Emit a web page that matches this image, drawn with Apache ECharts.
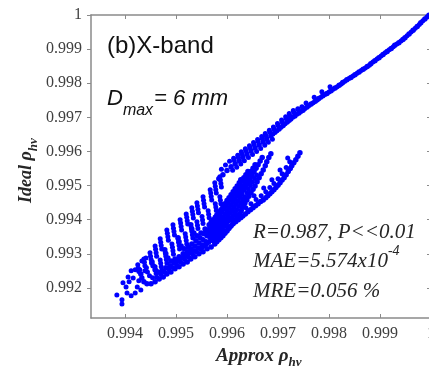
<!DOCTYPE html>
<html><head><meta charset="utf-8">
<script src="https://cdn.jsdelivr.net/npm/echarts@6/dist/echarts.min.js"></script>
<style>html,body{margin:0;padding:0;background:#fff}#c{width:429px;height:367px}</style>
</head><body><div id="c"></div>
<script>
// ---- tick labels ----
const xTickVals = [0.994, 0.995, 0.996, 0.997, 0.998, 0.999, 1];
const yTickVals = [0.992, 0.993, 0.994, 0.995, 0.996, 0.997, 0.998, 0.999, 1];

// ---- data (Approx rho_hv, Ideal rho_hv) ----
const band = [[0.99996,0.99999],[0.99988,0.99988],[0.99980,0.99977],[0.99973,0.99966],[0.99965,0.99955],[0.99957,0.99944],[0.99949,0.99933],[0.99945,0.99928],[0.99937,0.99919],[0.99929,0.99911],[0.99922,0.99902],[0.99914,0.99893],[0.99906,0.99884],[0.99898,0.99875],[0.99890,0.99866],[0.99882,0.99857],[0.99875,0.99849],[0.99867,0.99841],[0.99859,0.99833],[0.99851,0.99825],[0.99843,0.99817],[0.99835,0.99810],[0.99827,0.99802],[0.99820,0.99794],[0.99812,0.99786],[0.99804,0.99778],[0.99796,0.99770],[0.99788,0.99763],[0.99780,0.99755],[0.99773,0.99747],[0.99765,0.99739],[0.99757,0.99730],[0.99749,0.99721],[0.99741,0.99713],[0.99733,0.99704],[0.99725,0.99695],[0.99718,0.99686],[0.99710,0.99676],[0.99702,0.99666],[0.99694,0.99656],[0.99686,0.99646],[0.99678,0.99637],[0.99671,0.99628],[0.99663,0.99619],[0.99655,0.99610],[0.99647,0.99601],[0.99639,0.99592],[0.99631,0.99583],[0.99624,0.99573],[0.99616,0.99564],[0.99608,0.99555],[0.99600,0.99544],[0.99592,0.99532],[0.99584,0.99520]];
const bandMid = [[0.99992,0.99994],[0.99984,0.99983],[0.99977,0.99972],[0.99969,0.99961],[0.99961,0.99950],[0.99953,0.99939],[0.99941,0.99924],[0.99933,0.99915],[0.99926,0.99907],[0.99918,0.99898],[0.99910,0.99889],[0.99902,0.99880],[0.99894,0.99871],[0.99886,0.99862],[0.99879,0.99853],[0.99871,0.99845],[0.99863,0.99837],[0.99855,0.99829],[0.99847,0.99821],[0.99839,0.99814],[0.99831,0.99806],[0.99824,0.99798],[0.99816,0.99790],[0.99808,0.99782],[0.99800,0.99774],[0.99792,0.99767],[0.99784,0.99759],[0.99777,0.99751],[0.99769,0.99743],[0.99761,0.99735],[0.99753,0.99726],[0.99745,0.99717],[0.99737,0.99709],[0.99729,0.99700],[0.99722,0.99691],[0.99714,0.99681],[0.99706,0.99671],[0.99698,0.99661],[0.99690,0.99651]];
const bandEdge = [[0.99747,0.99731],[0.99739,0.99723],[0.99731,0.99714],[0.99723,0.99705],[0.99716,0.99696],[0.99708,0.99686],[0.99700,0.99676],[0.99692,0.99666],[0.99684,0.99656],[0.99676,0.99647],[0.99669,0.99638],[0.99661,0.99629],[0.99653,0.99620],[0.99645,0.99611],[0.99637,0.99602],[0.99629,0.99593],[0.99622,0.99583],[0.99614,0.99574],[0.99689,0.99636],[0.99681,0.99627],[0.99674,0.99618],[0.99666,0.99609],[0.99658,0.99600],[0.99650,0.99591],[0.99642,0.99582],[0.99634,0.99573],[0.99627,0.99563],[0.99619,0.99554],[0.99611,0.99545]];
const bandTop = [[0.99730,0.99720],[0.99722,0.99711],[0.99715,0.99702],[0.99707,0.99692],[0.99699,0.99682],[0.99691,0.99672],[0.99683,0.99662],[0.99675,0.99653],[0.99668,0.99644],[0.99660,0.99635],[0.99652,0.99626],[0.99644,0.99617],[0.99636,0.99608],[0.99628,0.99599],[0.99621,0.99589],[0.99613,0.99580],[0.99605,0.99571],[0.99597,0.99560],[0.99589,0.99548],[0.99802,0.99790],[0.99786,0.99775],[0.99771,0.99759],[0.99755,0.99742],[0.99739,0.99725]];
const stemA = [[0.99431,0.99241],[0.99433,0.99229],[0.99437,0.99218],[0.99443,0.99212],[0.99451,0.99212],[0.99459,0.99218],[0.99467,0.99226],[0.99475,0.99232],[0.99482,0.99241],[0.99490,0.99247],[0.99498,0.99256],[0.99506,0.99262],[0.99514,0.99270],[0.99522,0.99276],[0.99529,0.99285],[0.99537,0.99291],[0.99545,0.99300],[0.99553,0.99306],[0.99561,0.99315],[0.99569,0.99320],[0.99576,0.99329],[0.99584,0.99341],[0.99592,0.99353],[0.99600,0.99367],[0.99608,0.99382],[0.99616,0.99400],[0.99624,0.99417],[0.99631,0.99438],[0.99639,0.99458],[0.99647,0.99479],[0.99655,0.99499],[0.99663,0.99523],[0.99671,0.99546],[0.99678,0.99570],[0.99686,0.99593],[0.99580,0.99335],[0.99588,0.99347],[0.99596,0.99360],[0.99604,0.99375],[0.99612,0.99391],[0.99620,0.99409],[0.99628,0.99428],[0.99635,0.99448],[0.99643,0.99469],[0.99651,0.99489],[0.99659,0.99511],[0.99667,0.99535],[0.99675,0.99558],[0.99682,0.99582]];
const stemAB = [[0.99442,0.99259],[0.99444,0.99247],[0.99448,0.99236],[0.99454,0.99230],[0.99462,0.99231],[0.99470,0.99239],[0.99478,0.99246],[0.99486,0.99253],[0.99493,0.99260],[0.99501,0.99268],[0.99509,0.99275],[0.99517,0.99283],[0.99525,0.99290],[0.99533,0.99297],[0.99540,0.99306],[0.99548,0.99313],[0.99556,0.99324],[0.99564,0.99333],[0.99572,0.99344],[0.99580,0.99354],[0.99587,0.99366],[0.99595,0.99381],[0.99603,0.99396],[0.99611,0.99411],[0.99619,0.99429],[0.99627,0.99449],[0.99635,0.99467],[0.99642,0.99490],[0.99650,0.99510],[0.99658,0.99531],[0.99552,0.99319],[0.99560,0.99329],[0.99568,0.99339],[0.99576,0.99349],[0.99584,0.99360],[0.99591,0.99374],[0.99599,0.99389],[0.99607,0.99404],[0.99615,0.99420],[0.99623,0.99439],[0.99631,0.99458],[0.99639,0.99479],[0.99646,0.99500],[0.99654,0.99521]];
const stemB = [[0.99453,0.99276],[0.99455,0.99265],[0.99459,0.99253],[0.99465,0.99247],[0.99473,0.99250],[0.99480,0.99259],[0.99488,0.99265],[0.99496,0.99273],[0.99504,0.99279],[0.99512,0.99288],[0.99520,0.99294],[0.99527,0.99303],[0.99535,0.99309],[0.99543,0.99317],[0.99551,0.99326],[0.99559,0.99335],[0.99567,0.99347],[0.99575,0.99359],[0.99582,0.99373],[0.99590,0.99388],[0.99598,0.99403],[0.99606,0.99420],[0.99614,0.99438],[0.99622,0.99455],[0.99629,0.99476],[0.99637,0.99497],[0.99645,0.99517],[0.99653,0.99541],[0.99661,0.99561],[0.99669,0.99582],[0.99571,0.99353],[0.99579,0.99366],[0.99586,0.99381],[0.99594,0.99396],[0.99602,0.99412],[0.99610,0.99429],[0.99618,0.99447],[0.99626,0.99466],[0.99633,0.99487],[0.99641,0.99507],[0.99649,0.99529],[0.99657,0.99551],[0.99665,0.99572]];
const stemC = [[0.99478,0.99312],[0.99480,0.99300],[0.99484,0.99288],[0.99490,0.99279],[0.99498,0.99285],[0.99506,0.99291],[0.99514,0.99300],[0.99522,0.99306],[0.99529,0.99315],[0.99537,0.99323],[0.99545,0.99332],[0.99553,0.99341],[0.99561,0.99353],[0.99569,0.99364],[0.99576,0.99379],[0.99584,0.99394],[0.99592,0.99408],[0.99600,0.99426],[0.99608,0.99444],[0.99616,0.99461],[0.99624,0.99479],[0.99631,0.99499],[0.99639,0.99520],[0.99647,0.99541],[0.99655,0.99561],[0.99565,0.99359],[0.99573,0.99372],[0.99580,0.99387],[0.99588,0.99401],[0.99596,0.99417],[0.99604,0.99435],[0.99612,0.99453],[0.99620,0.99470],[0.99628,0.99489],[0.99635,0.99510],[0.99643,0.99531],[0.99651,0.99551]];
const stemD = [[0.99504,0.99347],[0.99506,0.99335],[0.99510,0.99323],[0.99516,0.99315],[0.99524,0.99320],[0.99531,0.99329],[0.99539,0.99338],[0.99547,0.99347],[0.99555,0.99359],[0.99563,0.99370],[0.99571,0.99385],[0.99578,0.99400],[0.99586,0.99414],[0.99594,0.99432],[0.99602,0.99450],[0.99610,0.99467],[0.99618,0.99485],[0.99625,0.99502],[0.99633,0.99523],[0.99641,0.99541],[0.99559,0.99365],[0.99567,0.99378],[0.99575,0.99393],[0.99582,0.99407],[0.99590,0.99423],[0.99598,0.99441],[0.99606,0.99459],[0.99614,0.99476],[0.99622,0.99494],[0.99629,0.99513],[0.99637,0.99532]];
const stemE = [[0.99529,0.99385],[0.99531,0.99373],[0.99535,0.99361],[0.99541,0.99353],[0.99549,0.99361],[0.99557,0.99373],[0.99565,0.99385],[0.99573,0.99400],[0.99580,0.99414],[0.99588,0.99429],[0.99596,0.99447],[0.99604,0.99464],[0.99612,0.99482],[0.99620,0.99499],[0.99627,0.99517],[0.99569,0.99393],[0.99577,0.99407],[0.99584,0.99422],[0.99592,0.99438],[0.99600,0.99456],[0.99608,0.99473],[0.99616,0.99491],[0.99624,0.99508]];
const teethOuter = [[0.99425,0.99268],[0.99426,0.99258],[0.99427,0.99248],[0.99437,0.99285],[0.99438,0.99275],[0.99439,0.99265],[0.99449,0.99303],[0.99450,0.99293],[0.99451,0.99283],[0.99452,0.99273],[0.99459,0.99323],[0.99460,0.99313],[0.99461,0.99303],[0.99462,0.99293],[0.99469,0.99344],[0.99470,0.99334],[0.99471,0.99324],[0.99472,0.99314],[0.99482,0.99370],[0.99483,0.99360],[0.99484,0.99350],[0.99485,0.99340],[0.99494,0.99385],[0.99495,0.99375],[0.99496,0.99365],[0.99497,0.99355],[0.99508,0.99400],[0.99509,0.99390],[0.99510,0.99380],[0.99511,0.99370],[0.99520,0.99417],[0.99521,0.99407],[0.99522,0.99397],[0.99523,0.99387],[0.99531,0.99435],[0.99532,0.99425],[0.99533,0.99415],[0.99534,0.99405],[0.99541,0.99450],[0.99542,0.99440],[0.99543,0.99430],[0.99544,0.99420],[0.99553,0.99467],[0.99554,0.99457],[0.99555,0.99447],[0.99556,0.99437],[0.99567,0.99488],[0.99568,0.99478],[0.99569,0.99468],[0.99570,0.99458],[0.99576,0.99508],[0.99577,0.99498],[0.99578,0.99488],[0.99579,0.99478],[0.99586,0.99526],[0.99587,0.99516],[0.99588,0.99506],[0.99589,0.99496]];
const teethInner = [[0.99459,0.99262],[0.99460,0.99252],[0.99461,0.99242],[0.99469,0.99282],[0.99470,0.99272],[0.99471,0.99262],[0.99479,0.99303],[0.99480,0.99293],[0.99481,0.99283],[0.99482,0.99273],[0.99492,0.99329],[0.99493,0.99319],[0.99494,0.99309],[0.99495,0.99299],[0.99504,0.99344],[0.99505,0.99334],[0.99506,0.99324],[0.99507,0.99314],[0.99518,0.99359],[0.99519,0.99349],[0.99520,0.99339],[0.99521,0.99329],[0.99530,0.99376],[0.99531,0.99366],[0.99532,0.99356],[0.99533,0.99346],[0.99541,0.99394],[0.99542,0.99384],[0.99543,0.99374],[0.99551,0.99409],[0.99552,0.99399],[0.99553,0.99389],[0.99563,0.99426],[0.99564,0.99416],[0.99565,0.99406],[0.99577,0.99447],[0.99578,0.99437],[0.99579,0.99427],[0.99586,0.99467],[0.99587,0.99457],[0.99588,0.99447]];
const branch = [[0.99743,0.99596],[0.99735,0.99576],[0.99727,0.99558],[0.99720,0.99541],[0.99712,0.99523],[0.99704,0.99508],[0.99696,0.99494],[0.99688,0.99482],[0.99680,0.99470],[0.99671,0.99458],[0.99661,0.99447],[0.99651,0.99435],[0.99641,0.99423],[0.99631,0.99411],[0.99622,0.99400],[0.99612,0.99388],[0.99602,0.99373],[0.99592,0.99361],[0.99582,0.99350],[0.99573,0.99338],[0.99739,0.99586],[0.99731,0.99567],[0.99724,0.99550],[0.99716,0.99532],[0.99708,0.99516],[0.99700,0.99501],[0.99692,0.99488],[0.99684,0.99476],[0.99676,0.99464],[0.99666,0.99453],[0.99656,0.99441],[0.99646,0.99429],[0.99636,0.99417],[0.99627,0.99406],[0.99617,0.99394],[0.99607,0.99381],[0.99597,0.99367],[0.99587,0.99356],[0.99578,0.99344]];
const branchTeeth = [[0.99723,0.99570],[0.99719,0.99581],[0.99708,0.99535],[0.99704,0.99546],[0.99692,0.99506],[0.99688,0.99517],[0.99676,0.99482],[0.99672,0.99493],[0.99657,0.99459],[0.99653,0.99470],[0.99637,0.99435],[0.99633,0.99446],[0.99618,0.99412],[0.99614,0.99423],[0.99598,0.99385],[0.99594,0.99396],[0.99716,0.99553],[0.99700,0.99520],[0.99684,0.99494],[0.99667,0.99470],[0.99647,0.99447],[0.99627,0.99423],[0.99608,0.99400]];
const sparse = [[0.99384,0.99179],[0.99394,0.99165],[0.99394,0.99153],[0.99402,0.99203],[0.99404,0.99185],[0.99412,0.99177],[0.99420,0.99185],[0.99408,0.99218],[0.99416,0.99229],[0.99424,0.99203],[0.99431,0.99194],[0.99427,0.99221],[0.99412,0.99250],[0.99420,0.99253],[0.99429,0.99253],[0.99439,0.99250],[0.99441,0.99288],[0.99433,0.99279],[0.99396,0.99215],[0.99406,0.99232]];

const statLines = ['R=0.987, P<<0.01', 'MAE=5.574x10', 'MRE=0.056 %'];
const statExp = '-4';

// ---- chart ----
const chart = echarts.init(document.getElementById('c'), null, {renderer: 'canvas'});
const AX = '#8a8a8a';
const LAB = '#404040';
const SERIF = "'Liberation Serif', 'Times New Roman', Times, serif";
const SANS = "'Liberation Sans', Arial, Helvetica, sans-serif";

const fmt = v => String(+(+v).toFixed(3));
const mctx = document.createElement('canvas').getContext('2d');
function tw(t, style, size, fam, weight) {
  mctx.font = (style || 'normal') + ' ' + (weight || 'normal') + ' ' + size + 'px ' + fam;
  return mctx.measureText(t).width;
}
function txt(x, y, s, size, fam, fstyle, weight, color, va) {
  return {type: 'text', x: x, y: y, silent: true, style: {text: s, fontSize: size, fontFamily: fam, fontStyle: fstyle || 'normal', fontWeight: weight || 'normal', fill: color || '#111', verticalAlign: va || 'middle'}};
}

const sets = [
  [band, 5.5], [bandMid, 5], [bandEdge, 5], [bandTop, 5], [stemA, 5.5], [stemAB, 5], [stemB, 5.5], [stemC, 5.5], [stemD, 5.5], [stemE, 5.5],
  [teethOuter, 5], [teethInner, 5], [branch, 5.5], [branchTeeth, 5], [sparse, 5]
];
const series = sets.map(s => ({
  type: 'scatter', data: s[0], xAxisIndex: 0, yAxisIndex: 0,
  symbol: 'circle', symbolSize: s[1], silent: true, animation: false,
  itemStyle: {color: '#0000ff', opacity: 1}
}));

const dW = tw('D', 'italic', 22, SANS);
const mW = tw('max', 'italic', 16, SANS);
const s1W = tw(statLines[1], 'italic', 21, SERIF);
const yW = tw('Ideal ρ', 'italic', 18, SERIF, 'bold');
const xW = tw('Approx ρ', 'italic', 19, SERIF, 'bold');

const graphics = [
  txt(107, 46, '(b)X-band', 24, SANS, 'normal', 'normal', '#111'),
  txt(107, 99, 'D', 22, SANS, 'italic', 'normal', '#111'),
  txt(107 + dW, 111, 'max', 16, SANS, 'italic', 'normal', '#111'),
  txt(107 + dW + mW + 1, 99, '= 6 mm', 22, SANS, 'italic', 'normal', '#111'),
  txt(253, 232, statLines[0], 21, SERIF, 'italic', 'normal', '#262626'),
  txt(253, 261, statLines[1], 21, SERIF, 'italic', 'normal', '#262626'),
  txt(253 + s1W, 251, statExp, 14, SERIF, 'italic', 'normal', '#262626'),
  txt(253, 291, statLines[2], 21, SERIF, 'italic', 'normal', '#262626'),
  {type: 'group', x: 35, y: 203, rotation: Math.PI / 2, children: [
    txt(0, 0, 'Ideal ρ', 18, SERIF, 'italic', 'bold', '#262626', 'bottom'),
    txt(yW, 5, 'hv', 13, SERIF, 'italic', 'bold', '#262626', 'bottom')
  ]},
  txt(216, 356, 'Approx ρ', 19, SERIF, 'italic', 'bold', '#262626'),
  txt(216 + xW, 363, 'hv', 13, SERIF, 'italic', 'bold', '#262626')
];

const axisCommon = {type: 'value', splitLine: {show: false}, axisLine: {show: true, onZero: false, lineStyle: {color: AX, width: 1.5}}};

chart.setOption({
  animation: false,
  backgroundColor: '#ffffff',
  grid: {left: 91, top: 15, right: -2, bottom: 49, containLabel: false, outerBoundsMode: 'none'},
  xAxis: [
    Object.assign({}, axisCommon, {min: 0.993333, max: 1, position: 'bottom',
      axisTick: {show: true, inside: true, length: 4, customValues: xTickVals, lineStyle: {color: AX}},
      axisLabel: {show: true, customValues: xTickVals, formatter: fmt, margin: 8, fontFamily: SERIF, fontSize: 16, color: LAB, hideOverlap: false}}),
    Object.assign({}, axisCommon, {min: 0.993333, max: 1, position: 'top',
      axisTick: {show: true, inside: true, length: 4, customValues: xTickVals, lineStyle: {color: AX}},
      axisLabel: {show: false}})
  ],
  yAxis: [
    Object.assign({}, axisCommon, {min: 0.991118, max: 1, position: 'left',
      axisTick: {show: true, inside: false, length: 4, customValues: yTickVals, lineStyle: {color: AX}},
      axisLabel: {show: true, customValues: yTickVals, formatter: fmt, margin: 9, fontFamily: SERIF, fontSize: 16, color: LAB}}),
    Object.assign({}, axisCommon, {min: 0.991118, max: 1, position: 'right',
      axisTick: {show: true, inside: true, length: 4, customValues: yTickVals, lineStyle: {color: AX}},
      axisLabel: {show: false}})
  ],
  series: series,
  graphic: graphics
});
</script>
</body></html>
